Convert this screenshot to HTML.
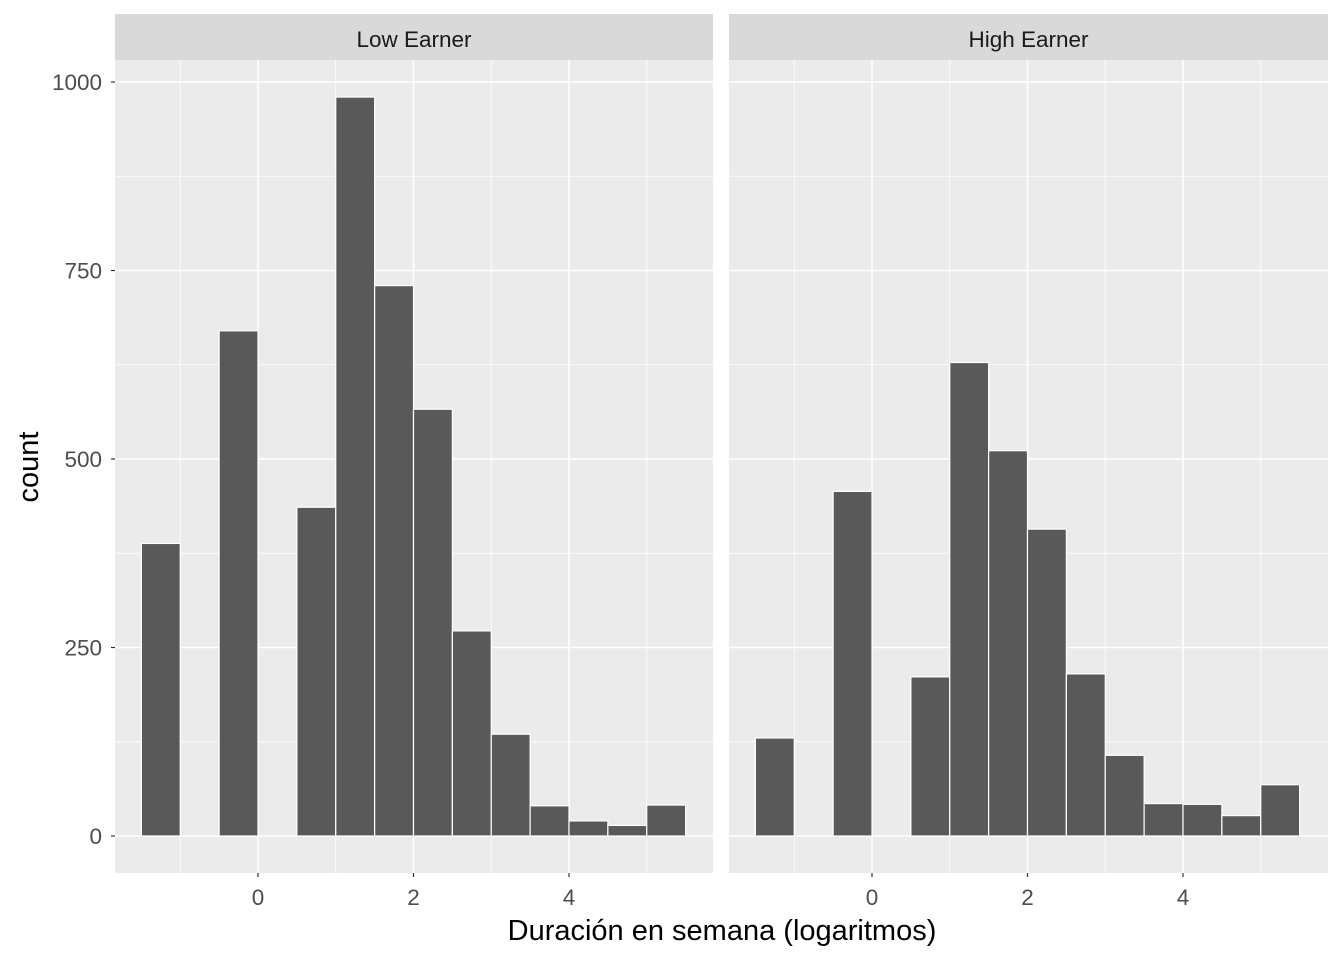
<!DOCTYPE html>
<html><head><meta charset="utf-8"><style>
body{margin:0;background:#fff}
svg text{font-family:"Liberation Sans",Arial,sans-serif}
</style></head><body>
<svg id="chart" width="1344" height="960" xmlns="http://www.w3.org/2000/svg"></svg>
<script>
const binStarts=[-1.5,-1,-0.5,0,0.5,1,1.5,2,2.5,3,3.5,4,4.5,5];
const lowCounts=[388,0,670,0,436,980,730,566,272,135,40,20,14,41];
const highCounts=[130,0,457,0,211,628,511,407,215,107,43,42,27,68];
const panelNames=["Low Earner","High Earner"];
const yTicks=[0,250,500,750,1000];
const yMinor=[125,375,625,875];
const xTicks=[0,2,4];
const xMinor=[-1,1,3,5];
const binWidth=0.5;

const svg=document.getElementById('chart');
const NS="http://www.w3.org/2000/svg";
function el(tag,attrs,parent){const e=document.createElementNS(NS,tag);for(const k in attrs)e.setAttribute(k,attrs[k]);(parent||svg).appendChild(e);return e;}
const plotTop=60,plotBottom=873;
const y=v=>836-v*0.754;
const panels=[{x0:115,x1:713,zero:258},{x0:729,x1:1328,zero:872}];
const scaleX=77.75;
[lowCounts,highCounts].forEach((counts,pi)=>{
  const p=panels[pi];
  const x=v=>p.zero+v*scaleX;
  const g=el('g',{});
  
  
  el('rect',{x:p.x0,y:14,width:p.x1-p.x0,height:46,fill:'#d9d9d9'},g);
  const st=el('text',{x:(p.x0+p.x1)/2,y:47,'text-anchor':'middle','font-size':'22.5',fill:'#1a1a1a'},g);
  st.textContent=panelNames[pi];
  
  
  el('rect',{x:p.x0,y:plotTop,width:p.x1-p.x0,height:plotBottom-plotTop,fill:'#ebebeb'},g);
  yMinor.forEach(v=>el('line',{x1:p.x0,x2:p.x1,y1:y(v),y2:y(v),stroke:'#fff','stroke-width':0.8},g));
  xMinor.forEach(v=>el('line',{x1:x(v),x2:x(v),y1:plotTop,y2:plotBottom,stroke:'#fff','stroke-width':0.8},g));
  yTicks.forEach(v=>el('line',{x1:p.x0,x2:p.x1,y1:y(v),y2:y(v),stroke:'#fff','stroke-width':1.6},g));
  xTicks.forEach(v=>el('line',{x1:x(v),x2:x(v),y1:plotTop,y2:plotBottom,stroke:'#fff','stroke-width':1.6},g));
  counts.forEach((c,i)=>{
    if(c<=0)return;
    const r=el('rect',{x:x(binStarts[i]),y:y(c),width:binWidth*scaleX,height:y(0)-y(c),fill:'#595959',stroke:'#fff','stroke-width':1.2},g);
    
    
  });
  xTicks.forEach(v=>{
    el('line',{x1:x(v),x2:x(v),y1:plotBottom,y2:plotBottom+4,stroke:'#333','stroke-width':1.2},g);
    const t=el('text',{x:x(v),y:905,'text-anchor':'middle','font-size':'22.5',fill:'#4d4d4d'},g);
    t.textContent=v;
    
    
  });
});
yTicks.forEach(v=>{
  el('line',{x1:111,x2:115,y1:y(v),y2:y(v),stroke:'#333','stroke-width':1.2});
  const t=el('text',{x:102,y:y(v)+8,'text-anchor':'end','font-size':'22.5',fill:'#4d4d4d'});
  t.textContent=v;
  
  
});
const xt=el('text',{x:722,y:940,'text-anchor':'middle','font-size':'29',fill:'#000'});
xt.textContent='Duración en semana (logaritmos)';


const yt=el('text',{x:38,y:467,'text-anchor':'middle','font-size':'29',fill:'#000',transform:'rotate(-90 38 467)'});
yt.textContent='count';


</script>
</body></html>
